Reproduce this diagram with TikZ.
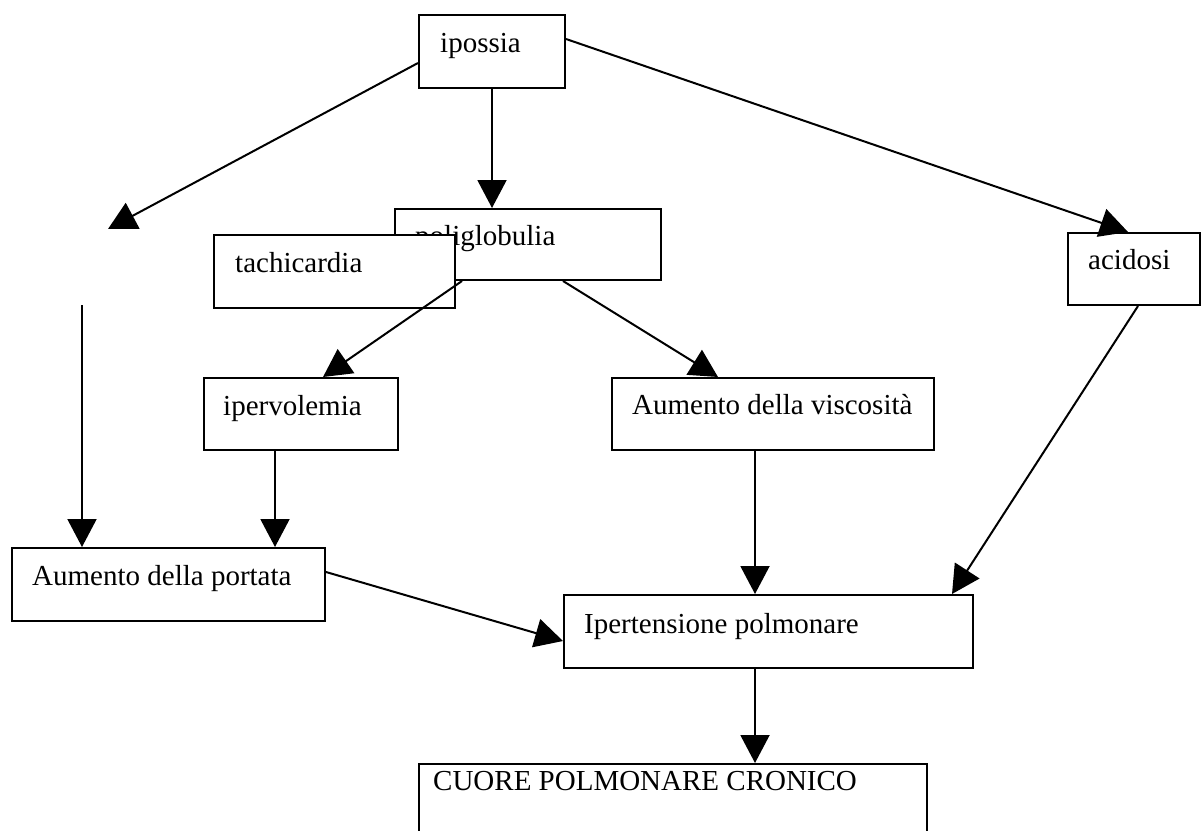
\documentclass[tikz,border=0pt]{standalone}
\usepackage{fontspec}
\setmainfont{Liberation Serif}
\usetikzlibrary{arrows.meta,calc}
\begin{document}
\begin{tikzpicture}[x=1pt,y=-1pt,
  box/.style={draw=black,fill=white,line width=2pt,inner sep=0pt,
    anchor=north west,rectangle},
  lbl/.style={anchor=base west,inner sep=0pt,
    font=\fontsize{29}{34}\selectfont},
  link/.style={line width=2pt,-{Triangle[length=28pt,width=29pt]}}]
\useasboundingbox (0,0) rectangle (1201,830);
\clip (0,0) rectangle (1201,830);

% boxes (poliglobulia first, tachicardia lies over it)
\node[box,minimum width=146pt,minimum height=73pt] (ipossia) at (418,14) {};
\node[box,minimum width=266pt,minimum height=71pt] (poli) at (394,208) {};
\node[box,minimum width=241pt,minimum height=73pt] (tachi) at (213,234) {};
\node[box,minimum width=132pt,minimum height=72pt] (acid) at (1067,232) {};
\node[box,minimum width=194pt,minimum height=72pt] (iperv) at (203,377) {};
\node[box,minimum width=322pt,minimum height=72pt] (visc) at (611,377) {};
\node[box,minimum width=313pt,minimum height=73pt] (portata) at (11,547) {};
\node[box,minimum width=409pt,minimum height=73pt] (ipert) at (563,594) {};
\node[box,minimum width=508pt,minimum height=90pt] (cuore) at (418,763) {};

% labels
\node[lbl] (ipossia-t) at ($(ipossia.north west)+(22,38)$) {ipossia};
\begin{scope}
  \clip (394,208) rectangle (660,234) (454,234) rectangle (660,279);
  \node[lbl] (poli-t) at ($(poli.north west)+(21,37)$) {poliglobulia};
\end{scope}
\node[lbl] (tachi-t) at ($(tachi.north west)+(22,38)$) {tachicardia};
\node[lbl] (acid-t) at ($(acid.north west)+(21,37)$) {acidosi};
\node[lbl] (iperv-t) at ($(iperv.north west)+(20,38)$) {ipervolemia};
\node[lbl] (visc-t) at ($(visc.north west)+(21,37)$) {Aumento della viscosità};
\node[lbl] (portata-t) at ($(portata.north west)+(21,38)$) {Aumento della portata};
\node[lbl] (ipert-t) at ($(ipert.north west)+(21,39)$) {Ipertensione polmonare};
\node[lbl] (cuore-t) at ($(cuore.north west)+(15,27)$) {CUORE POLMONARE CRONICO};

% free ends of the unlabelled branch
\coordinate (tipL) at (108,229);
\coordinate (startL) at (82,305);

% connectors
\draw[link] ($(ipossia.north west)+(0,49)$) -- (tipL);
\draw[link] (startL) -- ($(portata.north west)+(71,0)$);
\draw[link] (ipossia.south) -- (ipossia.south |- poli.north);
\draw[link] ($(ipossia.north east)+(0,25)$) -- ($(acid.north west)+(61,0)$);
\draw[link] ($(poli.south west)+(68,0)$) -- ($(iperv.north west)+(120,0)$);
\draw[link] ($(poli.south west)+(169,0)$) -- ($(visc.north west)+(107,0)$);
\draw[link] ($(iperv.south west)+(72,0)$) coordinate (a7) -- (a7 |- portata.north);
\draw[link] ($(visc.south west)+(144,0)$) coordinate (a8) -- (a8 |- ipert.north);
\draw[link] ($(acid.south west)+(71,0)$) -- ($(ipert.north east)+(-22,0)$);
\draw[link] ($(portata.north east)+(0,25)$) -- ($(ipert.north west)+(0,47)$);
\draw[link] ($(ipert.south west)+(192,0)$) coordinate (a11) -- (a11 |- cuore.north);
\end{tikzpicture}
\end{document}
